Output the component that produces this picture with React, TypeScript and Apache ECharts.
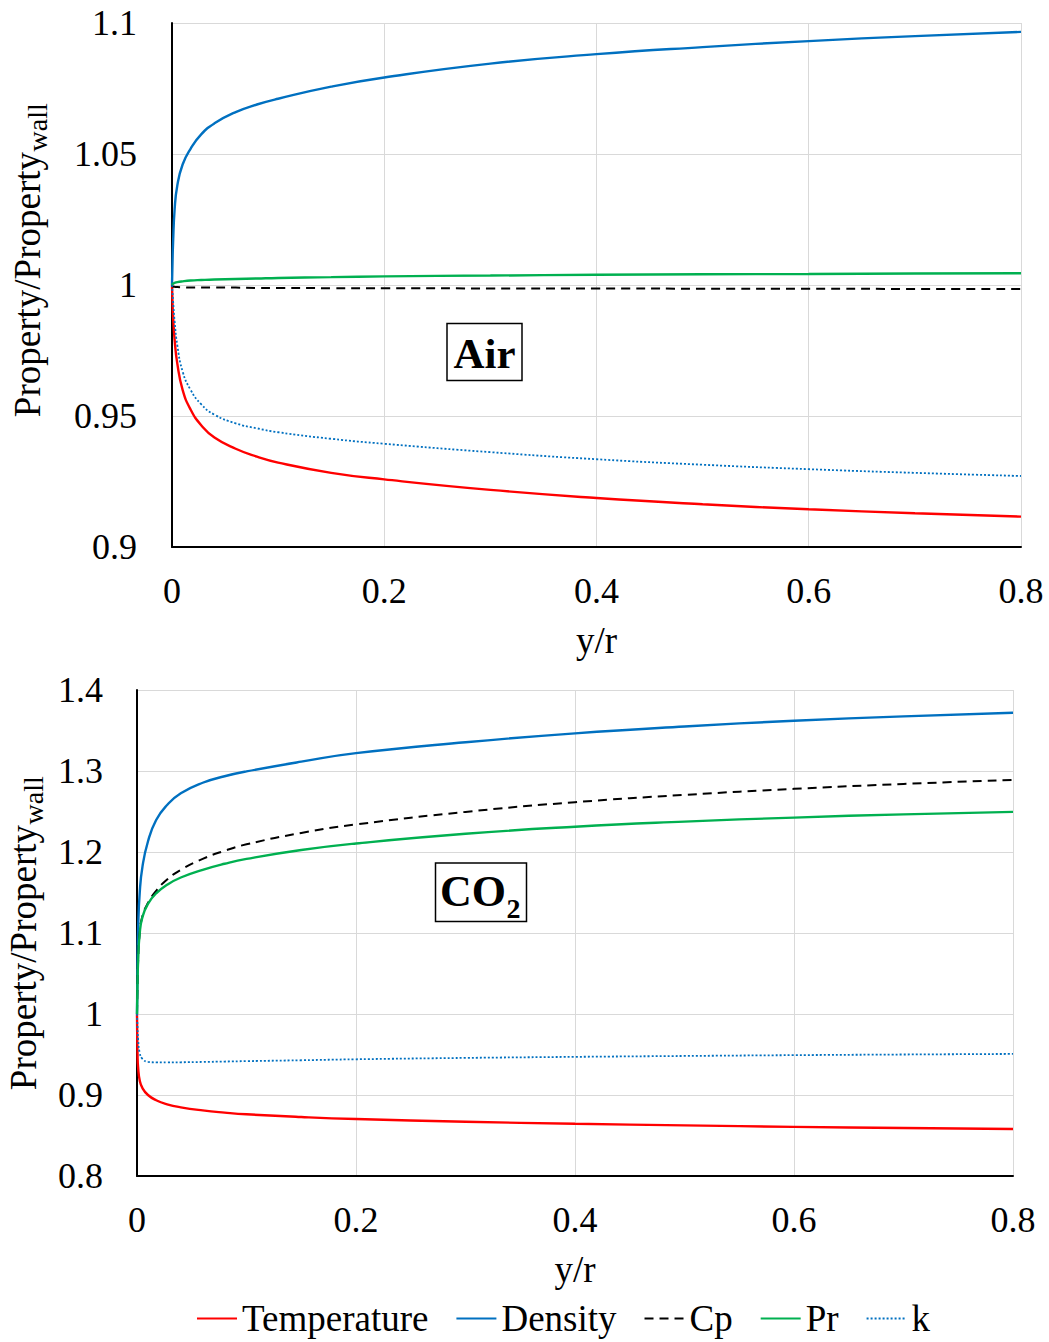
import React, { useEffect, useRef } from 'react';
import * as echarts from 'echarts';

// y/r sample positions (shared by both panels)
const X_POS = [0, 0.0005, 0.001, 0.0025, 0.005, 0.01, 0.0175, 0.0275, 0.04, 0.06, 0.08, 0.1, 0.15, 0.2, 0.3, 0.4, 0.5, 0.6, 0.7, 0.8];

// Air panel
const AIR_TEMPERATURE = [1.0, 0.993, 0.988, 0.979, 0.970, 0.960, 0.9525, 0.9465, 0.9418, 0.9375, 0.9345, 0.9322, 0.9283, 0.9258, 0.9218, 0.9187, 0.9163, 0.9144, 0.9129, 0.9116];
const AIR_DENSITY = [1.0, 1.009, 1.016, 1.029, 1.038, 1.046, 1.052, 1.0575, 1.0617, 1.066, 1.0689, 1.0711, 1.0757, 1.0792, 1.0845, 1.0881, 1.0908, 1.0931, 1.095, 1.0966];
const AIR_CP = [1.0, 0.9996, 0.9994, 0.9993, 0.9992, 0.9991, 0.999, 0.999, 0.999, 0.999, 0.9989, 0.9989, 0.9988, 0.9988, 0.9987, 0.9987, 0.9986, 0.9986, 0.9985, 0.9985];
const AIR_PR = [1.0, 1.0003, 1.0005, 1.0008, 1.0011, 1.0014, 1.0017, 1.0019, 1.0021, 1.0023, 1.0025, 1.0027, 1.003, 1.0033, 1.0036, 1.0039, 1.0041, 1.0042, 1.0044, 1.0045];
const AIR_K = [1.0, 0.997, 0.994, 0.986, 0.977, 0.967, 0.960, 0.9545, 0.9505, 0.9472, 0.9453, 0.9438, 0.9413, 0.9394, 0.9362, 0.9335, 0.9314, 0.9297, 0.9283, 0.9271];

// CO2 panel
const CO2_TEMPERATURE = [1.0, 0.949, 0.934, 0.918, 0.9085, 0.9, 0.8935, 0.8885, 0.8848, 0.881, 0.8783, 0.8762, 0.8728, 0.8703, 0.867, 0.8645, 0.8625, 0.8607, 0.8593, 0.858];
const CO2_DENSITY = [1.0, 1.07, 1.105, 1.15, 1.182, 1.213, 1.2395, 1.258, 1.2725, 1.2855, 1.2935, 1.2995, 1.3115, 1.322, 1.3355, 1.3465, 1.355, 1.362, 1.3675, 1.372];
const CO2_CP = [1.0, 1.04, 1.065, 1.1, 1.121, 1.137, 1.152, 1.166, 1.178, 1.1915, 1.2015, 1.2095, 1.2235, 1.234, 1.2495, 1.2615, 1.2705, 1.278, 1.284, 1.289];
const CO2_PR = [1.0, 1.04, 1.065, 1.1, 1.12, 1.136, 1.149, 1.1595, 1.1685, 1.178, 1.1855, 1.1915, 1.2025, 1.2105, 1.2225, 1.2312, 1.2375, 1.2425, 1.2465, 1.2495];
const CO2_K = [1.0, 0.983, 0.969, 0.952, 0.9445, 0.941, 0.9403, 0.9402, 0.9404, 0.9408, 0.9413, 0.9418, 0.9429, 0.9441, 0.9458, 0.9471, 0.9482, 0.9492, 0.95, 0.9507];

const SERIES_NAMES = ['Temperature', 'Density', 'Cp', 'Pr', 'k'];
const X_TITLE = 'y/r';
const Y_TITLE_MAIN = 'Property/Property';
const Y_TITLE_SUB = 'wall';

const FONT = '"Liberation Serif", "Times New Roman", serif';

const STYLES: Record<string, any> = {
  Temperature: { color: '#FF0000', width: 2.4, type: 'solid' },
  Density: { color: '#0070C0', width: 2.4, type: 'solid' },
  Cp: { color: '#000000', width: 2, type: [9, 6] },
  Pr: { color: '#00B050', width: 2.4, type: 'solid' },
  k: { color: '#0070C0', width: 1.8, type: [2, 2] },
};

const pairs = (vals: number[]) => X_POS.map((x, i) => [x, vals[i]]);

export default function App() {
  const ref = useRef<HTMLDivElement>(null);
  useEffect(() => {
    if (!ref.current) return;
    const chart = echarts.init(ref.current, undefined, { renderer: 'svg' });
    const airSets = [AIR_TEMPERATURE, AIR_DENSITY, AIR_CP, AIR_PR, AIR_K];
    const co2Sets = [CO2_TEMPERATURE, CO2_DENSITY, CO2_CP, CO2_PR, CO2_K];
    const mk = (name: string, vals: number[], idx: number) => {
      const s = STYLES[name];
      return {
        name,
        type: 'line',
        xAxisIndex: idx,
        yAxisIndex: idx,
        data: pairs(vals),
        symbol: 'none',
        showSymbol: false,
        smooth: 0.5,
        color: s.color,
        lineStyle: { color: s.color, width: s.width, type: s.type },
        z: name === 'k' ? 3 : 2,
      };
    };
    const fmt = (v: number) => String(+v.toFixed(2));
    const xAxis = (gi: number) => ({
      type: 'value',
      gridIndex: gi,
      min: 0,
      max: 0.8,
      interval: 0.2,
      name: X_TITLE,
      nameLocation: 'middle',
      nameGap: 75,
      nameTextStyle: { fontFamily: FONT, fontSize: 37, color: '#000' },
      axisLine: { show: true, lineStyle: { color: '#000', width: 2 } },
      axisTick: { show: false },
      axisLabel: { fontFamily: FONT, fontSize: 36, color: '#000', margin: 26, formatter: fmt },
      splitLine: { show: true, lineStyle: { color: '#D9D9D9', width: 1 } },
    });
    const yAxis = (gi: number, min: number, max: number, interval: number, margin: number) => ({
      type: 'value',
      gridIndex: gi,
      min,
      max,
      interval,
      axisLine: { show: true, onZero: false, lineStyle: { color: '#000', width: 2 } },
      axisTick: { show: false },
      axisLabel: { fontFamily: FONT, fontSize: 36, color: '#000', margin, formatter: fmt },
      splitLine: { show: true, lineStyle: { color: '#D9D9D9', width: 1 } },
    });
    const yTitle = (x: number, y: number) => ({
      type: 'group',
      x,
      y,
      rotation: Math.PI / 2,
      children: [
        {
          type: 'text',
          x: 0,
          y: 0,
          style: { text: Y_TITLE_MAIN, fontFamily: FONT, fontSize: 37, fill: '#000', align: 'right', verticalAlign: 'middle' },
        },
        {
          type: 'text',
          x: 0.5,
          y: 10.5,
          style: { text: Y_TITLE_SUB, fontFamily: FONT, fontSize: 28, fill: '#000', align: 'left', verticalAlign: 'middle' },
        },
      ],
      z: 10,
    });
    chart.setOption({
      animation: false,
      backgroundColor: '#fff',
      grid: [
        { left: 172, top: 23, width: 849, height: 524, containLabel: false },
        { left: 137, top: 690, width: 876, height: 486, containLabel: false },
      ],
      xAxis: [xAxis(0), xAxis(1)],
      yAxis: [yAxis(0, 0.9, 1.1, 0.05, 35), yAxis(1, 0.8, 1.4, 0.1, 34)],
      legend: {
        data: SERIES_NAMES,
        left: 196,
        top: 1300,
        padding: 0,
        itemWidth: 40,
        itemHeight: 4,
        itemGap: 27,
        itemStyle: { opacity: 0 },
        textStyle: { fontFamily: FONT, fontSize: 37, color: '#000' },
      },
      graphic: [
        yTitle(27, 152),
        yTitle(23, 825),
        {
          type: 'rect',
          shape: { x: 447, y: 323.5, width: 75, height: 57 },
          style: { fill: '#fff', stroke: '#000', lineWidth: 1.5 },
          z: 10,
        },
        {
          type: 'text',
          x: 484.5,
          y: 353,
          style: { text: 'Air', fontFamily: FONT, fontSize: 43, fontWeight: 'bold', fill: '#000', align: 'center', verticalAlign: 'middle' },
          z: 11,
        },
        {
          type: 'rect',
          shape: { x: 435.5, y: 863, width: 91, height: 58.5 },
          style: { fill: '#fff', stroke: '#000', lineWidth: 1.5 },
          z: 10,
        },
        {
          type: 'text',
          x: 506,
          y: 891,
          style: { text: 'CO', fontFamily: FONT, fontSize: 44, fontWeight: 'bold', fill: '#000', align: 'right', verticalAlign: 'middle' },
          z: 11,
        },
        {
          type: 'text',
          x: 506.5,
          y: 908,
          style: { text: '2', fontFamily: FONT, fontSize: 28, fontWeight: 'bold', fill: '#000', align: 'left', verticalAlign: 'middle' },
          z: 11,
        },
      ],
      series: [
        ...SERIES_NAMES.map((n, i) => mk(n, airSets[i], 0)),
        ...SERIES_NAMES.map((n, i) => mk(n, co2Sets[i], 1)),
      ],
    });
    return () => chart.dispose();
  }, []);
  return (
    <div
      ref={ref}
      style={{ position: 'absolute', left: 0, top: 0, width: 1049, height: 1342, background: '#fff' }}
    />
  );
}
